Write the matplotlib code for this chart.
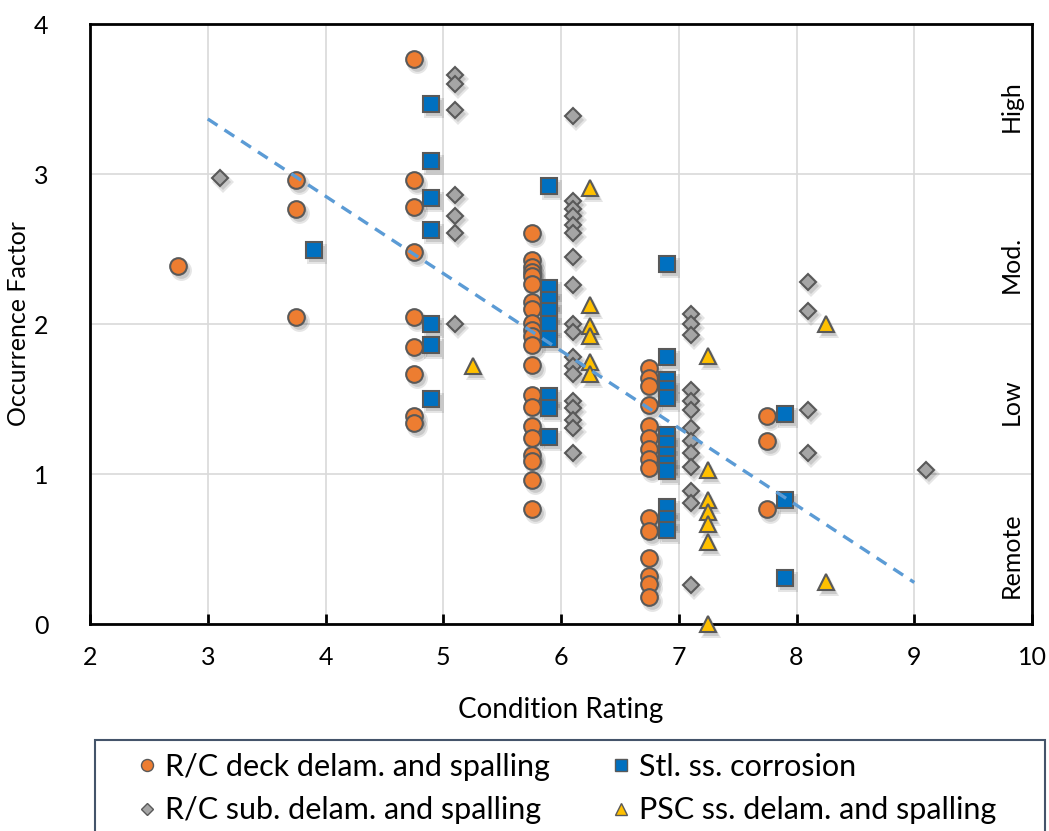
import matplotlib
matplotlib.use("Agg")
import matplotlib.pyplot as plt
import matplotlib.transforms as mtransforms
from matplotlib.lines import Line2D
from matplotlib.patches import Rectangle

plt.rcParams['font.family'] = ['Lato', 'DejaVu Sans']

# R/C deck delam. and spalling
deck_x = [2.75, 3.75, 3.75, 3.75,
          4.75, 4.75, 4.75, 4.75, 4.75, 4.75, 4.75, 4.75, 4.75,
          5.75, 5.75, 5.75, 5.75, 5.75, 5.75, 5.75, 5.75, 5.75, 5.75, 5.75,
          5.75, 5.75, 5.75, 5.75, 5.75, 5.75, 5.75, 5.75, 5.75, 5.75,
          6.75, 6.75, 6.75, 6.75, 6.75, 6.75, 6.75, 6.75, 6.75, 6.75, 6.75,
          6.75, 6.75, 6.75, 6.75,
          7.75, 7.75, 7.75]
deck_y = [2.39, 2.96, 2.77, 2.05,
          3.77, 2.96, 2.78, 2.48, 2.05, 1.85, 1.67, 1.39, 1.34,
          2.61, 2.43, 2.38, 2.35, 2.32, 2.27, 2.15, 2.10, 2.01, 1.96, 1.92,
          1.86, 1.73, 1.53, 1.45, 1.32, 1.24, 1.13, 1.09, 0.96, 0.77,
          1.71, 1.64, 1.59, 1.46, 1.32, 1.24, 1.17, 1.10, 1.04, 0.71, 0.62,
          0.44, 0.32, 0.27, 0.18,
          1.39, 1.22, 0.77]

# Stl. ss. corrosion
steel_x = [3.9,
           4.9, 4.9, 4.9, 4.9, 4.9, 4.9, 4.9,
           5.9, 5.9, 5.9, 5.9, 5.9, 5.9, 5.9, 5.9, 5.9,
           6.9, 6.9, 6.9, 6.9, 6.9, 6.9, 6.9, 6.9, 6.9, 6.9, 6.9, 6.9, 6.9,
           7.9, 7.9, 7.9]
steel_y = [2.49,
           3.47, 3.09, 2.84, 2.63, 2.00, 1.86, 1.50,
           2.92, 2.24, 2.16, 2.09, 2.00, 1.90, 1.52, 1.44, 1.25,
           2.40, 1.78, 1.63, 1.57, 1.51, 1.26, 1.20, 1.13, 1.07, 1.02, 0.78, 0.70, 0.63,
           1.40, 0.83, 0.31]

# R/C sub. delam. and spalling
sub_x = [3.1,
         5.1, 5.1, 5.1, 5.1, 5.1, 5.1, 5.1,
         6.1, 6.1, 6.1, 6.1, 6.1, 6.1, 6.1, 6.1, 6.1, 6.1, 6.1, 6.1, 6.1,
         6.1, 6.1, 6.1, 6.1, 6.1,
         7.1, 7.1, 7.1, 7.1, 7.1, 7.1, 7.1, 7.1, 7.1, 7.1, 7.1, 7.1, 7.1,
         8.1, 8.1, 8.1, 8.1,
         9.1]
sub_y = [2.97,
         3.66, 3.60, 3.43, 2.86, 2.72, 2.61, 2.00,
         3.39, 2.82, 2.77, 2.72, 2.66, 2.61, 2.45, 2.26, 2.00, 1.95, 1.78, 1.72, 1.67,
         1.49, 1.44, 1.36, 1.31, 1.14,
         2.07, 2.00, 1.93, 1.56, 1.49, 1.43, 1.31, 1.22, 1.14, 1.05, 0.89, 0.81, 0.26,
         2.28, 2.09, 1.43, 1.14,
         1.03]

# PSC ss. delam. and spalling
psc_x = [5.25,
         6.25, 6.25, 6.25, 6.25, 6.25, 6.25,
         7.25, 7.25, 7.25, 7.25, 7.25, 7.25, 7.25,
         8.25, 8.25]
psc_y = [1.72,
         2.91, 2.13, 1.99, 1.92, 1.75, 1.67,
         1.79, 1.03, 0.83, 0.75, 0.67, 0.55, 0.00,
         2.00, 0.28]

# linear trend over condition rating 3..9
trend_slope = -0.515
trend_intercept = 4.912
trend_x = [3, 9]

band_labels = ['High', 'Mod.', 'Low', 'Remote']
band_centers = [3.45, 2.4, 1.48, 0.46]

series = [
    (deck_x, deck_y, 'o', '#ED7D31', 12, 'R/C deck delam. and spalling'),
    (steel_x, steel_y, 's', '#0070C0', 11.5, 'Stl. ss. corrosion'),
    (sub_x, sub_y, 'D', '#A5A5A5', 8.3, 'R/C sub. delam. and spalling'),
    (psc_x, psc_y, '^', '#FFC000', 12, 'PSC ss. delam. and spalling'),
]
edge = '#595959'

fig = plt.figure(figsize=(10.49, 8.31), dpi=100)
ax = fig.add_axes([90 / 1049, 1 - 624 / 831, 942 / 1049, 600 / 831])

# soft drop shadow under each marker
shadow_off = mtransforms.ScaledTranslation(3 / 100, -4 / 100, fig.dpi_scale_trans)
for xs, ys, m, c, ms, lab in series:
    ax.plot(xs, ys, linestyle='none', marker=m, markersize=ms + 3,
            markerfacecolor='#000000', markeredgewidth=0, alpha=0.10,
            transform=ax.transData + shadow_off, zorder=2, clip_on=False)
    ax.plot(xs, ys, linestyle='none', marker=m, markersize=ms,
            markerfacecolor='#000000', markeredgewidth=0, alpha=0.12,
            transform=ax.transData + shadow_off, zorder=2, clip_on=False)

for xs, ys, m, c, ms, lab in series:
    ax.plot(xs, ys, linestyle='none', marker=m, markersize=ms,
            markerfacecolor=c, markeredgecolor=edge, markeredgewidth=1.5,
            zorder=3, clip_on=False)

# trend line
trend_y = [trend_slope * v + trend_intercept for v in trend_x]
ax.plot(trend_x, trend_y, linestyle=(0, (3.5, 2.5)), color='#5B9BD5',
        linewidth=2.4, zorder=4)

for lab, yc in zip(band_labels, band_centers):
    ax.text(9.82, yc, lab, rotation=90, ha='center', va='center', fontsize=18)

ax.set_xlim(2, 10)
ax.set_ylim(0, 4)
ax.set_xticks(range(2, 11))
ax.set_yticks(range(0, 5))
ax.grid(True, color='#D9D9D9', linewidth=1.2)
ax.set_axisbelow(True)
for sp in ax.spines.values():
    sp.set_linewidth(2)
    sp.set_color('black')
ax.tick_params(axis='x', direction='in', length=7, width=2, pad=16, labelsize=18)
ax.tick_params(axis='y', length=0, pad=30, labelsize=18)
ax.set_xlabel('Condition Rating', fontsize=20, labelpad=20)
ax.set_ylabel('Occurrence Factor', fontsize=18, labelpad=3)

# legend below the plot, its frame running off the bottom edge
handles = []
for xs, ys, m, c, ms, lab in series:
    handles.append(Line2D([], [], linestyle='none', marker=m, markersize=ms * 0.72,
                          markerfacecolor=c, markeredgecolor=edge, markeredgewidth=1.0))
order = [0, 2, 1, 3]
fig.legend([handles[i] for i in order], [series[i][5] for i in order],
           ncol=2, loc='upper left', bbox_to_anchor=(138 / 1049, 1 - 753 / 831),
           frameon=False, fontsize=22, handlelength=0.6, handletextpad=0.3,
           columnspacing=2.0, labelspacing=0.5, borderaxespad=0, borderpad=0)
fig.patches.append(Rectangle((95 / 1049, -0.05), 950 / 1049, 0.05 + 91 / 831,
                             transform=fig.transFigure, fill=False,
                             edgecolor='#44546A', linewidth=1.5))

plt.savefig('out.png', dpi=100)
